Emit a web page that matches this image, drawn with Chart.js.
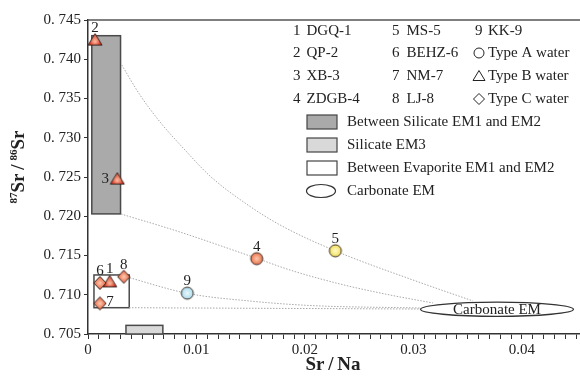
<!DOCTYPE html>
<html>
<head>
<meta charset="utf-8">
<script src="https://cdn.jsdelivr.net/npm/chart.js@4/dist/chart.umd.min.js"></script>
<style>
  html, body { margin: 0; padding: 0; background: #fff; }
</style>
</head>
<body>
<canvas id="chart" width="580" height="376"></canvas>
<script>
// ---- data ----
const sampleNo    = ['1', '2', '3', '4', '5', '6', '7', '8', '9'];
const sampleName  = ['DGQ-1', 'QP-2', 'XB-3', 'ZDGB-4', 'MS-5', 'BEHZ-6', 'NM-7', 'LJ-8', 'KK-9'];
const srNa        = [0.0020, 0.00065, 0.0027, 0.01555, 0.0228, 0.0011, 0.0011, 0.0033, 0.00915];
const srRatio     = [0.7117, 0.7425, 0.7248, 0.7146, 0.7156, 0.7115, 0.7089, 0.7123, 0.7102];
const waterType   = ['B', 'B', 'B', 'A', 'A', 'C', 'C', 'C', 'A'];
const labelSide   = ['up', 'up', 'left', 'up', 'up', 'up', 'right', 'up', 'up'];

// dotted mixing curves
const mix1X = [0.00311, 0.00479, 0.00664, 0.00894, 0.01124, 0.01447, 0.0177, 0.02283, 0.02995, 0.03548];
const mix1Y = [0.73927, 0.73545, 0.73201, 0.72844, 0.72513, 0.72169, 0.71889, 0.71557, 0.71188, 0.70921];
const mix2X = [0.00304, 0.00848, 0.01555, 0.01862, 0.02323, 0.02783, 0.0318];
const mix2Y = [0.72029, 0.71799, 0.71464, 0.71315, 0.71137, 0.70997, 0.70895];
const mix3X = [0.00359, 0.00915, 0.01493, 0.02046, 0.0306];
const mix3Y = [0.71226, 0.71018, 0.7092, 0.70863, 0.70831];
const mix4X = [0.00378, 0.0306];
const mix4Y = [0.70835, 0.70818];

// end-member fields [xMin, xMax, yMin, yMax]
const silicateEM12  = [0.00035, 0.0030, 0.7203, 0.7430];
const silicateEM3   = [0.0035, 0.0069, 0.7050, 0.7061];
const evaporiteEM12 = [0.00055, 0.0038, 0.70835, 0.71252];
// carbonate ellipse [xCenter, yCenter, xHalf, yHalf]
const carbonateEM   = [0.0377, 0.70815, 0.00705, 0.0009];

const xTicks = [];
for (let k = 0; k <= 45; k++) xTicks.push(k / 1000);
const yTickStep = 0.005;

const FONT = '"Liberation Serif", "Times New Roman", serif';
const INK = '#222';

// marker images with a soft highlight, like the original
function markerImg(shape, outer, inner) {
  const s = 18, c = document.createElement('canvas');
  c.width = s; c.height = s;
  const g = c.getContext('2d');
  const cx = s / 2, cy = s / 2;
  g.beginPath();
  if (shape === 'triangle') {
    g.moveTo(cx, 3); g.lineTo(cx + 7, 14.5); g.lineTo(cx - 7, 14.5); g.closePath();
  } else if (shape === 'diamond') {
    g.moveTo(cx, 2.5); g.lineTo(cx + 6.2, cy); g.lineTo(cx, 15.5); g.lineTo(cx - 6.2, cy); g.closePath();
  } else {
    g.arc(cx, cy, 6, 0, Math.PI * 2);
  }
  const grad = g.createRadialGradient(cx, shape === 'triangle' ? cy + 2 : cy, 0.5, cx, cy, 7);
  grad.addColorStop(0, inner);
  grad.addColorStop(1, outer);
  g.fillStyle = grad;
  g.fill();
  g.lineWidth = 1;
  g.strokeStyle = '#3a2a22';
  g.stroke();
  return c;
}

const circleColors = { '4': ['#e8653c', '#fbc4a8'], '5': ['#f0dc40', '#fff8c8'], '9': ['#9fd8ec', '#e6f6fb'] };
const pointImages = sampleNo.map((n, i) => {
  if (waterType[i] === 'B') return markerImg('triangle', '#d8261a', '#f9b89a');
  if (waterType[i] === 'C') return markerImg('diamond', '#e5522e', '#fbc4aa');
  return markerImg('circle', circleColors[n][0], circleColors[n][1]);
});

function pts(xs, ys) { return xs.map((x, i) => ({ x: x, y: ys[i] })); }

function curve(xs, ys) {
  return {
    type: 'line',
    data: pts(xs, ys),
    showLine: true,
    borderColor: '#a8a8a8',
    borderWidth: 1,
    borderDash: [1.5, 1.5],
    pointRadius: 0,
    cubicInterpolationMode: 'monotone',
    fill: false,
    order: 2
  };
}

function rectField(ctx, sx, sy, f, fillCol) {
  const l = sx.getPixelForValue(f[0]), r = sx.getPixelForValue(f[1]);
  const t = sy.getPixelForValue(f[3]), b = sy.getPixelForValue(f[2]);
  ctx.fillStyle = fillCol;
  ctx.fillRect(l, t, r - l, b - t);
  ctx.lineWidth = 1.5;
  ctx.strokeStyle = '#4a4a4a';
  ctx.strokeRect(l, t, r - l, b - t);
}

function drawSymbol(ctx, shape, x, y) {
  ctx.beginPath();
  if (shape === 'circle') ctx.arc(x, y, 5, 0, Math.PI * 2);
  else if (shape === 'triangle') { ctx.moveTo(x, y - 5.5); ctx.lineTo(x + 6, y + 4.5); ctx.lineTo(x - 6, y + 4.5); ctx.closePath(); }
  else { ctx.moveTo(x, y - 5.5); ctx.lineTo(x + 5.5, y); ctx.lineTo(x, y + 5.5); ctx.lineTo(x - 5.5, y); ctx.closePath(); }
  ctx.lineWidth = 1;
  ctx.strokeStyle = INK;
  ctx.stroke();
}

const decorations = {
  id: 'decorations',
  beforeDatasetsDraw(chart) {
    const { ctx, scales: { x, y } } = chart;
    ctx.save();
    rectField(ctx, x, y, silicateEM12, '#aaaaaa');
    rectField(ctx, x, y, silicateEM3, '#d9d9d9');
    rectField(ctx, x, y, evaporiteEM12, '#ffffff');
    ctx.restore();
  },
  afterDatasetsDraw(chart) {
    const { ctx, scales: { x, y } } = chart;
    ctx.save();
    // carbonate end member ellipse
    const cx = x.getPixelForValue(carbonateEM[0]), cy = y.getPixelForValue(carbonateEM[1]);
    const rx = x.getPixelForValue(carbonateEM[0] + carbonateEM[2]) - cx;
    const ry = cy - y.getPixelForValue(carbonateEM[1] + carbonateEM[3]);
    ctx.beginPath();
    ctx.ellipse(cx, cy, rx, ry, 0, 0, Math.PI * 2);
    ctx.fillStyle = '#fff';
    ctx.fill();
    ctx.lineWidth = 1.3;
    ctx.strokeStyle = '#333';
    ctx.stroke();
    ctx.fillStyle = INK;
    ctx.font = '15px ' + FONT;
    ctx.textAlign = 'center';
    ctx.textBaseline = 'middle';
    ctx.fillText('Carbonate EM', cx, cy + 1);

    // sample numbers next to points
    const meta = chart.getDatasetMeta(0);
    meta.data.forEach((el, i) => {
      let tx = el.x, ty = el.y - 12;
      if (labelSide[i] === 'left') { tx = el.x - 12; ty = el.y; }
      if (labelSide[i] === 'right') { tx = el.x + 10; ty = el.y - 1; }
      ctx.fillText(sampleNo[i], tx, ty);
    });
    ctx.restore();
  },
  afterDraw(chart) {
    const { ctx, chartArea: a } = chart;
    ctx.save();
    // top frame line
    ctx.beginPath();
    ctx.moveTo(a.left, a.top);
    ctx.lineTo(a.right, a.top);
    ctx.lineWidth = 1.5;
    ctx.strokeStyle = '#555';
    ctx.stroke();

    // legend: sample list
    ctx.fillStyle = INK;
    ctx.font = '15px ' + FONT;
    ctx.textAlign = 'left';
    ctx.textBaseline = 'middle';
    const rowY = [31, 53, 76, 99];
    const colNum = [293, 392, 475];
    const colName = [306.5, 406.5, 488];
    for (let i = 0; i < sampleNo.length; i++) {
      const c = Math.floor(i / 4), r = i % 4;
      ctx.fillText(sampleNo[i], colNum[c], rowY[r]);
      ctx.fillText(sampleName[i], colName[c], rowY[r]);
    }
    // legend: water types
    const types = [['circle', 'Type A water'], ['triangle', 'Type B water'], ['diamond', 'Type C water']];
    types.forEach((t, k) => {
      drawSymbol(ctx, t[0], 479, rowY[k + 1]);
      ctx.fillStyle = INK;
      ctx.fillText(t[1], 488, rowY[k + 1]);
    });
    // legend: end-member fields
    const fields = [['#aaaaaa', 'Between Silicate EM1 and EM2'], ['#d9d9d9', 'Silicate EM3'], ['#ffffff', 'Between Evaporite EM1 and EM2']];
    const fieldY = [122, 145, 168];
    fields.forEach((f, k) => {
      ctx.fillStyle = f[0];
      ctx.fillRect(307, fieldY[k] - 7, 30, 14);
      ctx.lineWidth = 1.2;
      ctx.strokeStyle = '#444';
      ctx.strokeRect(307, fieldY[k] - 7, 30, 14);
      ctx.fillStyle = INK;
      ctx.fillText(f[1], 347, fieldY[k]);
    });
    ctx.beginPath();
    ctx.ellipse(321, 191, 14.5, 6.5, 0, 0, Math.PI * 2);
    ctx.lineWidth = 1.2;
    ctx.strokeStyle = '#333';
    ctx.stroke();
    ctx.fillStyle = INK;
    ctx.fillText('Carbonate EM', 347, 191);

    // x axis title
    ctx.font = 'bold 19px ' + FONT;
    ctx.textAlign = 'center';
    ctx.fillText('Sr\u2009/\u2009Na', 333, 365);

    // y axis title with superscripts
    ctx.translate(18, 167);
    ctx.rotate(-Math.PI / 2);
    const parts = [['87', true], ['Sr', false], ['\u2009/\u2009', false], ['86', true], ['Sr', false]];
    const big = 'bold 19px ' + FONT, small = 'bold 11px ' + FONT;
    let total = 0;
    parts.forEach(p => { ctx.font = p[1] ? small : big; total += ctx.measureText(p[0]).width; });
    let px = -total / 2;
    ctx.textAlign = 'left';
    ctx.textBaseline = 'alphabetic';
    parts.forEach(p => {
      ctx.font = p[1] ? small : big;
      ctx.fillText(p[0], px, p[1] ? -1 : 6);
      px += ctx.measureText(p[0]).width;
    });
    ctx.restore();
  }
};

new Chart(document.getElementById('chart'), {
  type: 'scatter',
  data: {
    datasets: [
      {
        data: pts(srNa, srRatio),
        pointStyle: pointImages,
        pointRadius: 6,
        order: 0
      },
      curve(mix1X, mix1Y),
      curve(mix2X, mix2Y),
      curve(mix3X, mix3Y),
      curve(mix4X, mix4Y)
    ]
  },
  options: {
    responsive: false,
    animation: false,
    events: [],
    layout: { autoPadding: false, padding: { top: 20, right: 0, bottom: 0, left: 0 } },
    plugins: { legend: { display: false }, tooltip: { enabled: false } },
    scales: {
      x: {
        type: 'linear',
        min: 0,
        max: 0.04535,
        afterFit: s => { s.height = 42; s.paddingLeft = 0; s.paddingRight = 0; },
        afterBuildTicks: s => { s.ticks = xTicks.map(v => ({ value: v })); },
        border: { display: true, color: '#333', width: 1.5 },
        grid: { drawOnChartArea: false, drawTicks: true, tickLength: 5, tickColor: '#333', tickWidth: 1 },
        ticks: {
          autoSkip: false,
          maxRotation: 0,
          padding: 2,
          color: INK,
          font: { family: FONT, size: 15 },
          callback: v => {
            const k = Math.round(v * 1000);
            if (k % 10 !== 0) return '';
            return k === 0 ? '0' : (k / 1000).toFixed(2);
          }
        }
      },
      y: {
        min: 0.705,
        max: 0.745,
        afterFit: s => { s.width = 88; s.paddingTop = 0; s.paddingBottom = 0; },
        border: { display: true, color: '#333', width: 1.5 },
        grid: { drawOnChartArea: false, drawTicks: true, tickLength: 4, tickColor: '#333' },
        ticks: {
          stepSize: yTickStep,
          padding: 3,
          color: INK,
          font: { family: FONT, size: 15 },
          callback: v => '0. ' + v.toFixed(3).slice(2)
        }
      }
    }
  },
  plugins: [decorations]
});
</script>
</body>
</html>
